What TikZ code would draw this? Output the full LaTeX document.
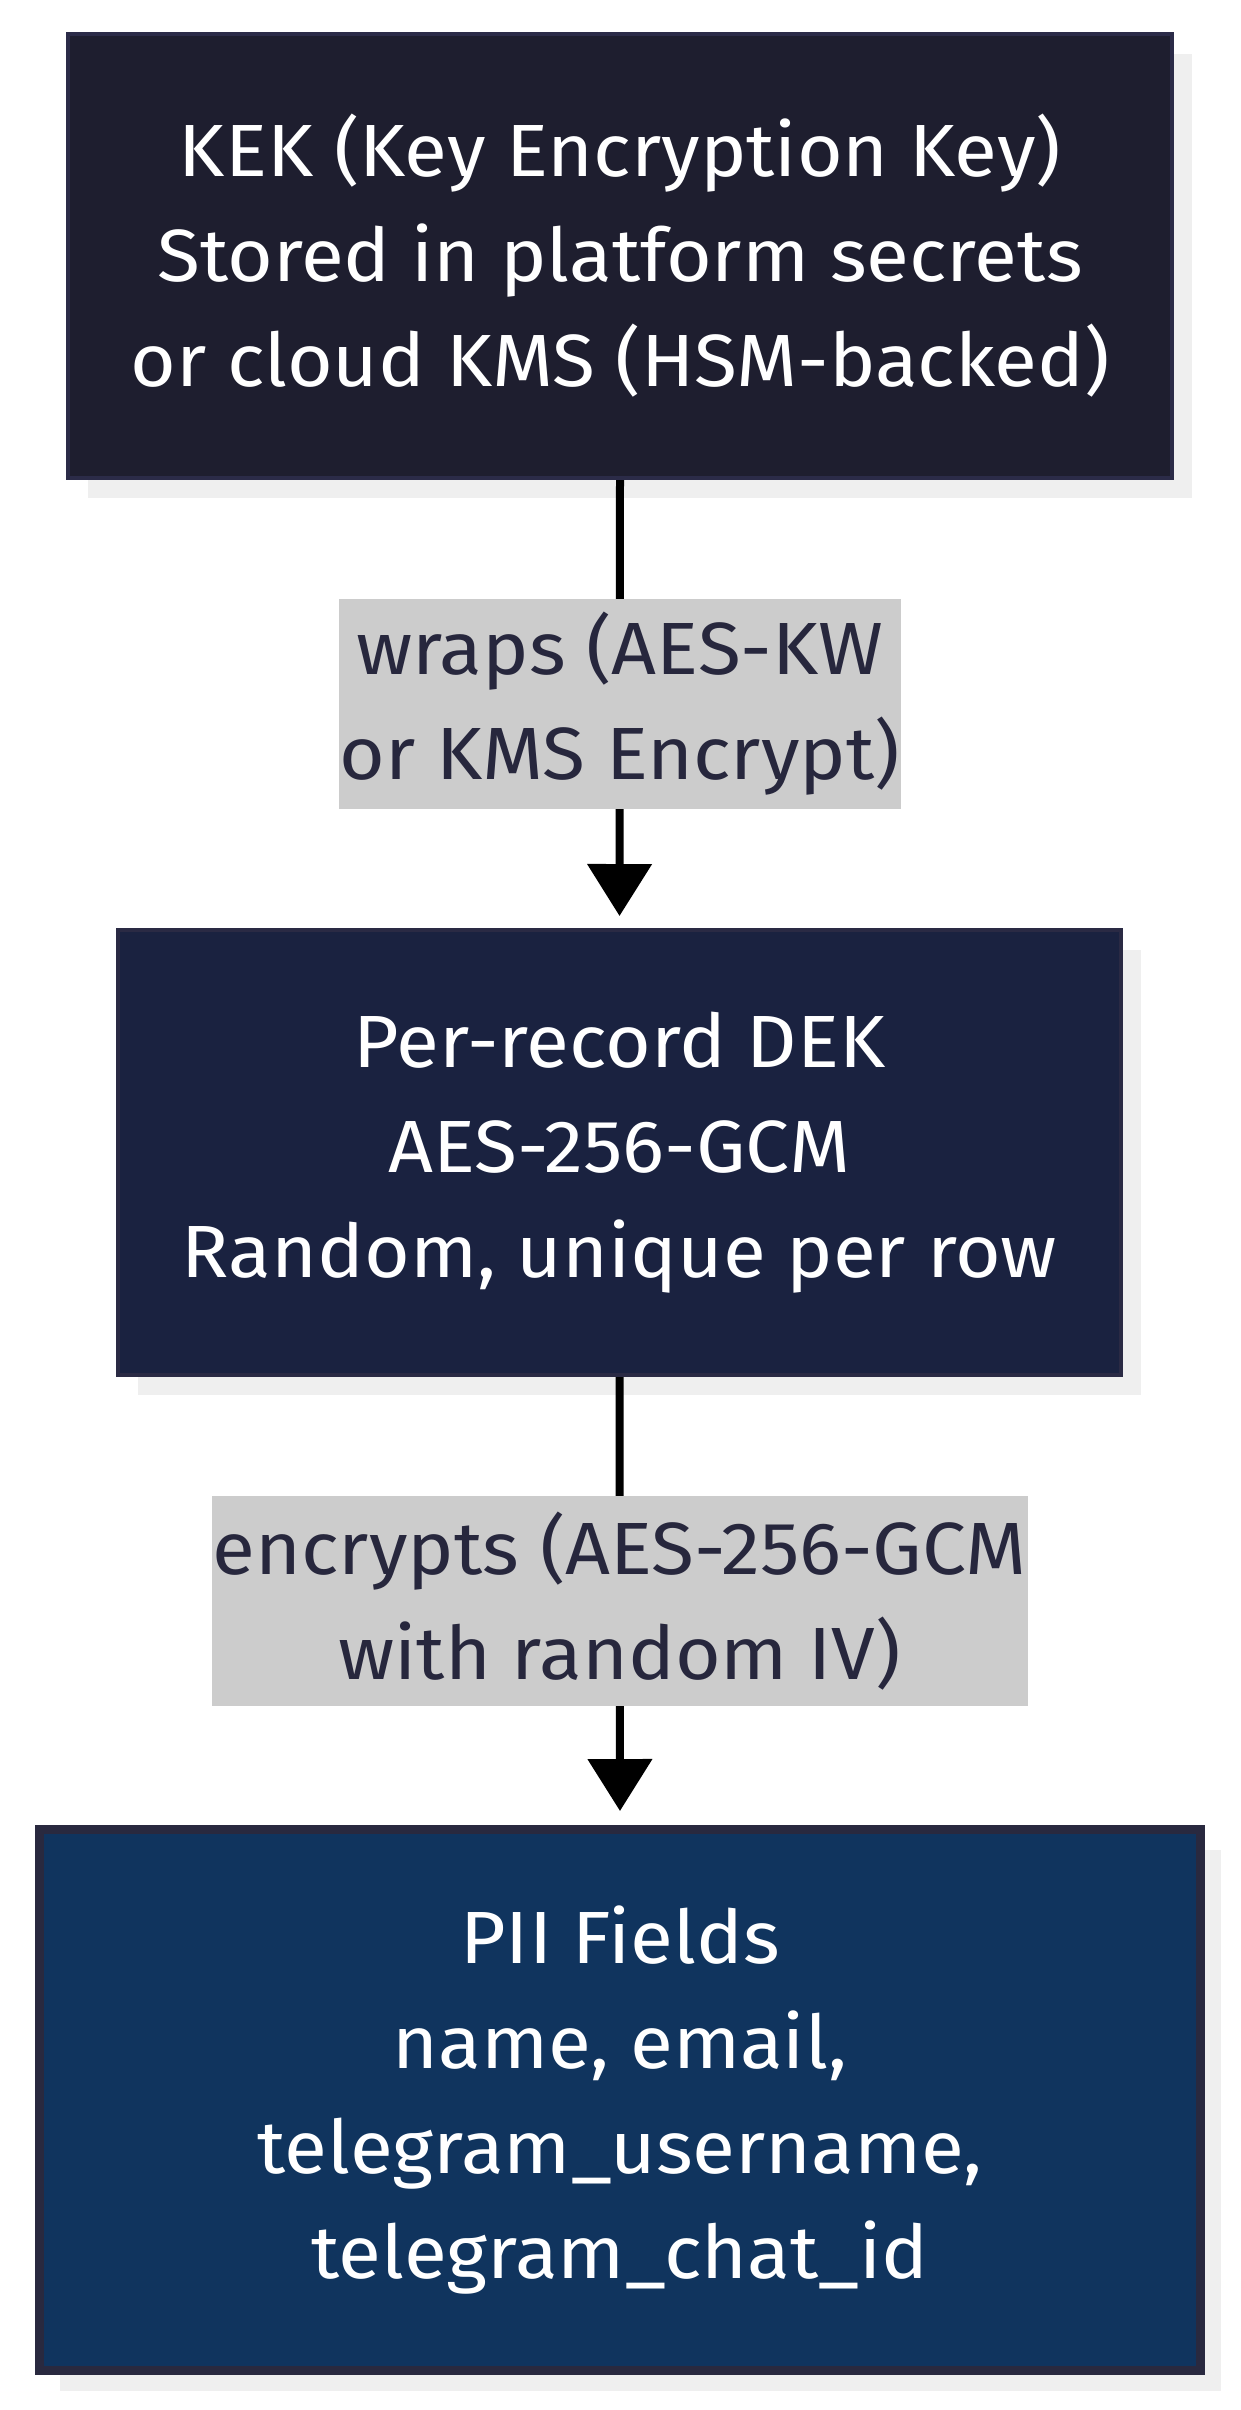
\documentclass[tikz,border=0pt]{standalone}
\usepackage{fontspec}
\setmainfont[FakeStretch=1.06]{Fira Sans}
\usetikzlibrary{arrows.meta,shadows}
\definecolor{kekfill}{HTML}{1E1E2F}
\definecolor{kekdraw}{HTML}{2B2B48}
\definecolor{dekfill}{HTML}{1A2240}
\definecolor{dekdraw}{HTML}{2A2A44}
\definecolor{piifill}{HTML}{10345E}
\definecolor{piidraw}{HTML}{29293F}
\definecolor{shadowgray}{HTML}{EFEFEF}
\definecolor{labelgray}{HTML}{CCCCCC}
\definecolor{labeltext}{HTML}{27273D}
\begin{document}
\begin{tikzpicture}[x=1pt,y=-1pt,
  boxstyle/.style={draw=#1, rectangle, inner sep=0pt, align=center, text=white,
    font=\fontsize{74}{105}\selectfont,
    drop shadow={shadow xshift=20pt, shadow yshift=-20pt, fill=shadowgray, opacity=1}},
  edgelabel/.style={fill=labelgray, text=labeltext, inner xsep=1pt, inner ysep=0pt,
    minimum height=210pt, align=center, font=\fontsize{74}{105}\selectfont},
  flowarrow/.style={draw=black, line width=8pt,
    -{Triangle[width=63pt,length=52pt]}}
]
\useasboundingbox[fill=white] (0,0) rectangle (1240,2410);

\node[boxstyle=kekdraw, fill=kekfill, line width=4pt, minimum width=1104pt, minimum height=444pt]
  (kek) at (620,256) {KEK (Key Encryption Key)\\Stored in platform secrets\\or cloud KMS (HSM-backed)};
\node[boxstyle=dekdraw, fill=dekfill, line width=4pt, minimum width=1003pt, minimum height=445pt]
  (dek) at (619.5,1152.5) {Per-record DEK\\AES-256-GCM\\Random, unique per row};
\node[boxstyle=piidraw, fill=piifill, line width=9pt, minimum width=1161pt, minimum height=541pt]
  (pii) at (620,2100) {PII Fields\\name, email,\\telegram\_username,\\telegram\_chat\_id};

\draw[flowarrow, shorten >=12pt] (kek.south) -- node[edgelabel] (lab1) {wraps (AES-KW\\or KMS Encrypt)} (dek.north);
\draw[flowarrow, shorten >=14pt] (dek.south) -- node[edgelabel] (lab2) {encrypts (AES-256-GCM\\with random IV)} (pii.north);
\end{tikzpicture}
\end{document}
